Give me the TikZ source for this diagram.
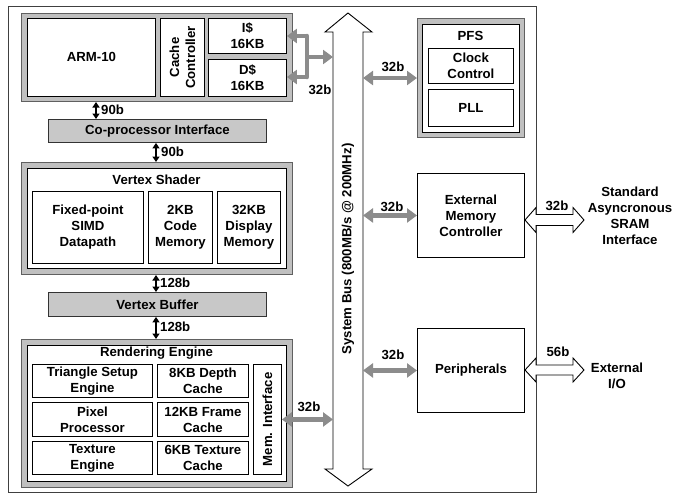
\documentclass[tikz,border=0pt]{standalone}
\usepackage{fontspec}
\setmainfont{Liberation Sans}
\usetikzlibrary{arrows.meta,calc}
\definecolor{bandgray}{HTML}{C0C0C0}
\definecolor{framegray}{HTML}{606060}
\definecolor{argray}{HTML}{8C8C8C}
\definecolor{ifgray}{HTML}{C8C8C8}
\tikzset{
  every node/.style={font=\fontsize{13.2}{16}\selectfont\bfseries, inner sep=0pt},
  box/.style={draw=black, line width=0.9pt, fill=white, anchor=north west, align=center},
  grp/.style={draw=framegray, line width=1pt, fill=bandgray, anchor=north west},
  inframe/.style={draw=black, line width=1.4pt, fill=white, anchor=north west},
  ifbox/.style={draw=black!80, line width=0.9pt, fill=ifgray, anchor=north west, align=center},
  barrow/.style={line width=1.3pt, {Triangle[length=5.5pt,width=7pt]}-{Triangle[length=5.5pt,width=7pt]}},
  garrow/.style={draw=argray, line width=4.5pt, {Triangle[length=10pt,width=14pt]}-{Triangle[length=10pt,width=14pt]}},
  gline/.style={draw=argray, line width=4.5pt},
  gtip/.style={draw=argray, line width=4.5pt, -{Triangle[length=10pt,width=14pt]}},
  hollow/.style={draw=black, line width=0.9pt, fill=white, line join=miter},
  lbl/.style={}
}
\begin{document}
\begin{tikzpicture}[x=1pt,y=-1pt]
\useasboundingbox (0,0) rectangle (681,496);
% chip border
\draw[draw=black!75, line width=0.9pt] (8,6) rectangle (536,492);

% ARM group
\node[grp, minimum width=271pt, minimum height=88pt] (armgrp) at (21,13) {};
\node[box, minimum width=128pt, minimum height=78pt] (arm) at (27,18) {ARM-10};
\node[box, minimum width=44pt, minimum height=78pt] (cc) at (160,18) {};
\node[rotate=90, align=center] (cctext) at (cc.center) {Cache\\Controller};
\node[box, minimum width=78pt, minimum height=35pt] (icache) at (208,18) {I\$\\16KB};
\node[box, minimum width=78pt, minimum height=37pt] (dcache) at (208,59) {D\$\\16KB};

% Co-processor interface
\node[ifbox, minimum width=218pt, minimum height=23pt] (copi) at (48,119) {Co-processor Interface};

% Vertex shader
\node[grp, minimum width=271pt, minimum height=112pt] (vsgrp) at (21,162) {};
\node[inframe, minimum width=259pt, minimum height=100pt] (vsin) at (27,168) {};
\node (vstitle) at (156.5,180) {Vertex Shader};
\node[box, minimum width=111pt, minimum height=72pt] (fp) at (32,191) {Fixed-point\\SIMD\\Datapath};
\node[box, minimum width=64pt, minimum height=72pt] (code) at (148,191) {2KB\\Code\\Memory};
\node[box, minimum width=63pt, minimum height=72pt] (disp) at (217,191) {32KB\\Display\\Memory};

% Vertex buffer
\node[ifbox, minimum width=218pt, minimum height=24pt] (vb) at (48,292) {Vertex Buffer};

% Rendering engine
\node[grp, minimum width=271pt, minimum height=148pt] (regrp) at (21,339) {};
\node[inframe, minimum width=259pt, minimum height=136pt] (rein) at (27,345) {};
\node (retitle) at (156.5,353) {Rendering Engine};
\node[box, minimum width=120pt, minimum height=33pt] (tri) at (32,364) {Triangle Setup\\Engine};
\node[box, minimum width=91pt, minimum height=33pt] (depth) at (157,364) {8KB Depth\\Cache};
\node[box, minimum width=120pt, minimum height=34pt] (pix) at (32,402) {Pixel\\Processor};
\node[box, minimum width=91pt, minimum height=34pt] (frm) at (157,402) {12KB Frame\\Cache};
\node[box, minimum width=120pt, minimum height=33pt] (tex) at (32,441) {Texture\\Engine};
\node[box, minimum width=91pt, minimum height=33pt] (texc) at (157,441) {6KB Texture\\Cache};
\node[box, minimum width=28pt, minimum height=110pt] (memif) at (253,364) {};
\node[rotate=90] (memiftext) at (memif.center) {Mem. Interface};

% PFS
\node[grp, minimum width=107pt, minimum height=119pt] (pfsgrp) at (417,18) {};
\node[inframe, minimum width=97pt, minimum height=108pt] (pfsin) at (422,24) {};
\node (pfstitle) at (470.5,36) {PFS};
\node[box, minimum width=85pt, minimum height=35pt] (clk) at (428,48) {Clock\\Control};
\node[box, minimum width=85pt, minimum height=37pt] (pll) at (428,89) {PLL};

% EMC and peripherals
\node[box, minimum width=107pt, minimum height=84pt] (emc) at (417,173) {External\\Memory\\Controller};
\node[box, minimum width=107pt, minimum height=84pt] (per) at (417,328) {Peripherals};

% System bus
\draw[hollow] (348,13) -- (372,32) -- (363,32) -- (363,469) -- (372,469) -- (348,486)
  -- (325,469) -- (333,469) -- (333,32) -- (325,32) -- cycle;
\coordinate (busL) at (333,0);
\coordinate (busR) at (363,0);
\node[rotate=90] (buslbl) at (348,249) {System Bus (800MB/s @ 200MHz)};

% black arrows
\draw[barrow] (armgrp.south -| 96,0) -- (copi.north -| 96,0);
\node[anchor=west] (l90a) at (101,110) {90b};
\draw[barrow] (copi.south -| 156,0) -- (vsgrp.north -| 156,0);
\node[anchor=west] (l90b) at (161,152) {90b};
\draw[barrow] (vsgrp.south -| 156,0) -- (vb.north -| 156,0);
\node[anchor=west] (l128a) at (160,283) {128b};
\draw[barrow] (vb.south -| 156,0) -- (regrp.north -| 156,0);
\node[anchor=west] (l128b) at (160,327) {128b};

% gray arrows
\coordinate (jI) at (307,36);
\coordinate (jD) at (307,77);
\coordinate (jM) at (307,57);
\draw[gline, line cap=round] (jI) -- (jD);
\draw[gtip] (jI) -- (jI -| icache.east);
\draw[gtip] (jD) -- (jD -| dcache.east);
\draw[gtip] (jM) -- (jM -| busL);
\node (l32c) at (320,90) {32b};

\draw[garrow] (memif.east) -- (memif.east -| busL);
\node (l32m) at (309,407) {32b};
\draw[garrow] (busR |- 0,78) -- (pfsgrp.west |- 0,78);
\node (l32p) at (393,67) {32b};
\draw[garrow] (busR |- emc.west) -- (emc.west);
\node (l32e) at (392,207) {32b};
\draw[garrow] (busR |- per.west) -- (per.west);
\node (l32r) at (393,355) {32b};

% external hollow arrows
\draw[hollow] (525,220) -- (536,207.5) -- (536,214.5) -- (573,214.5) -- (573,207.5) -- (584,220)
  -- (573,232.5) -- (573,225.5) -- (536,225.5) -- (536,232.5) -- cycle;
\node (l32s) at (557,206) {32b};
\node[align=center] (sram) at (630,216) {Standard\\Asyncronous\\SRAM\\Interface};
\draw[hollow] (525,370) -- (536,358) -- (536,365) -- (573,365) -- (573,358) -- (584,370)
  -- (573,382) -- (573,375) -- (536,375) -- (536,382) -- cycle;
\node (l56) at (558,352) {56b};
\node[align=center] (extio) at (617,376) {External\\I/O};
\end{tikzpicture}
\end{document}
